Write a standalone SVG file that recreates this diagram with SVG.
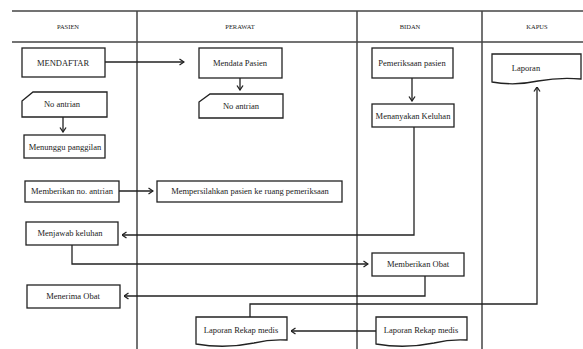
<svg xmlns="http://www.w3.org/2000/svg" width="583" height="349" viewBox="0 0 583 349">
<defs>
<marker id="arr" viewBox="0 0 6 8" refX="5.5" refY="4" markerWidth="6" markerHeight="8" markerUnits="userSpaceOnUse" orient="auto">
<path d="M1,1 L5.5,4 L1,7" fill="none" stroke="#222" stroke-width="1.3"/>
</marker>
<style>
.lane{stroke:#444;stroke-width:1.5;fill:none}
.box{fill:#fff;stroke:#222;stroke-width:1.3}
.con{fill:none;stroke:#222;stroke-width:1.3;marker-end:url(#arr)}
.t{font-family:"Liberation Serif","Times New Roman",serif;font-size:8.5px;fill:#222;text-anchor:middle;dominant-baseline:central}
.h{font-family:"Liberation Serif","Times New Roman",serif;font-size:6.5px;fill:#222;text-anchor:middle;dominant-baseline:central}
</style>
</defs>
<rect width="583" height="349" fill="#fff"/>
<g id="lanes">
<line class="lane" x1="12" y1="11" x2="583" y2="11"/>
<line class="lane" x1="12" y1="42" x2="583" y2="42"/>
<line class="lane" x1="137" y1="11" x2="137" y2="349"/>
<line class="lane" x1="357" y1="11" x2="357" y2="349"/>
<line class="lane" x1="482" y1="11" x2="482" y2="349"/>
<text class="h" x="68" y="26">PASIEN</text>
<text class="h" x="240" y="26">PERAWAT</text>
<text class="h" x="410" y="26">BIDAN</text>
<text class="h" x="537" y="26">KAPUS</text>
</g>
<g id="connectors">
<path class="con" d="M105,62 H184"/>
<path class="con" d="M240,78 V90"/>
<path class="con" d="M63,117 V132"/>
<path class="con" d="M119,191 H153"/>
<path class="con" d="M412,78 V101"/>
<path class="con" d="M414,127 V235 H122"/>
<path class="con" d="M72,245 V264 H368"/>
<path class="con" d="M425,276 V296 H124"/>
<path class="con" d="M376,331 H291"/>
<path class="con" d="M250,317 V304 H537 V87"/>
</g>
<g id="mendaftar"><rect class="box" x="22" y="48" width="83" height="29"/><text class="t" x="63" y="63">MENDAFTAR</text></g>
<g id="mendata"><rect class="box" x="199" y="48" width="83" height="30"/><text class="t" x="240" y="63">Mendata Pasien</text></g>
<g id="noantrian2"><path class="box" d="M199,102 L210,94 H283 V118 H199 Z"/><text class="t" x="241" y="106">No antrian</text></g>
<g id="noantrian1"><path class="box" d="M22,101 L33,92 H107 V117 H22 Z"/><text class="t" x="62" y="104">No antrian</text></g>
<g id="menunggu"><rect class="box" x="24" y="135" width="81" height="23"/><text class="t" x="65" y="147">Menunggu panggilan</text></g>
<g id="memberikanno"><rect class="box" x="25" y="181" width="94" height="21"/><text class="t" x="72" y="191">Memberikan no. antrian</text></g>
<g id="mempersilahkan"><rect class="box" x="157" y="181" width="185" height="21"/><text class="t" x="250" y="191">Mempersilahkan pasien ke ruang pemeriksaan</text></g>
<g id="menjawab"><rect class="box" x="26" y="222" width="92" height="23"/><text class="t" x="70" y="233">Menjawab keluhan</text></g>
<g id="pemeriksaan"><rect class="box" x="372" y="48" width="81" height="30"/><text class="t" x="412" y="63">Pemeriksaan pasien</text></g>
<g id="menanyakan"><rect class="box" x="372" y="104" width="82" height="23"/><text class="t" x="413" y="116">Menanyakan Keluhan</text></g>
<g id="laporan"><path class="box" d="M492,54 H581 V79 Q560,77 538,81 Q515,86 492,82 Z"/><text class="t" x="526" y="68">Laporan</text></g>
<g id="memberikanobat"><rect class="box" x="372" y="253" width="92" height="23"/><text class="t" x="418" y="264">Memberikan Obat</text></g>
<g id="menerimaobat"><rect class="box" x="27" y="285" width="93" height="23"/><text class="t" x="73" y="296">Menerima Obat</text></g>
<g id="rekap1"><path class="box" d="M196,317 H287 V340 Q270,339 254,343 Q225,349 196,344 Z"/><text class="t" x="241" y="330">Laporan Rekap medis</text></g>
<g id="rekap2"><path class="box" d="M376,317 H467 V340 Q450,339 434,343 Q405,349 376,344 Z"/><text class="t" x="421" y="330">Laporan Rekap medis</text></g>
</svg>
